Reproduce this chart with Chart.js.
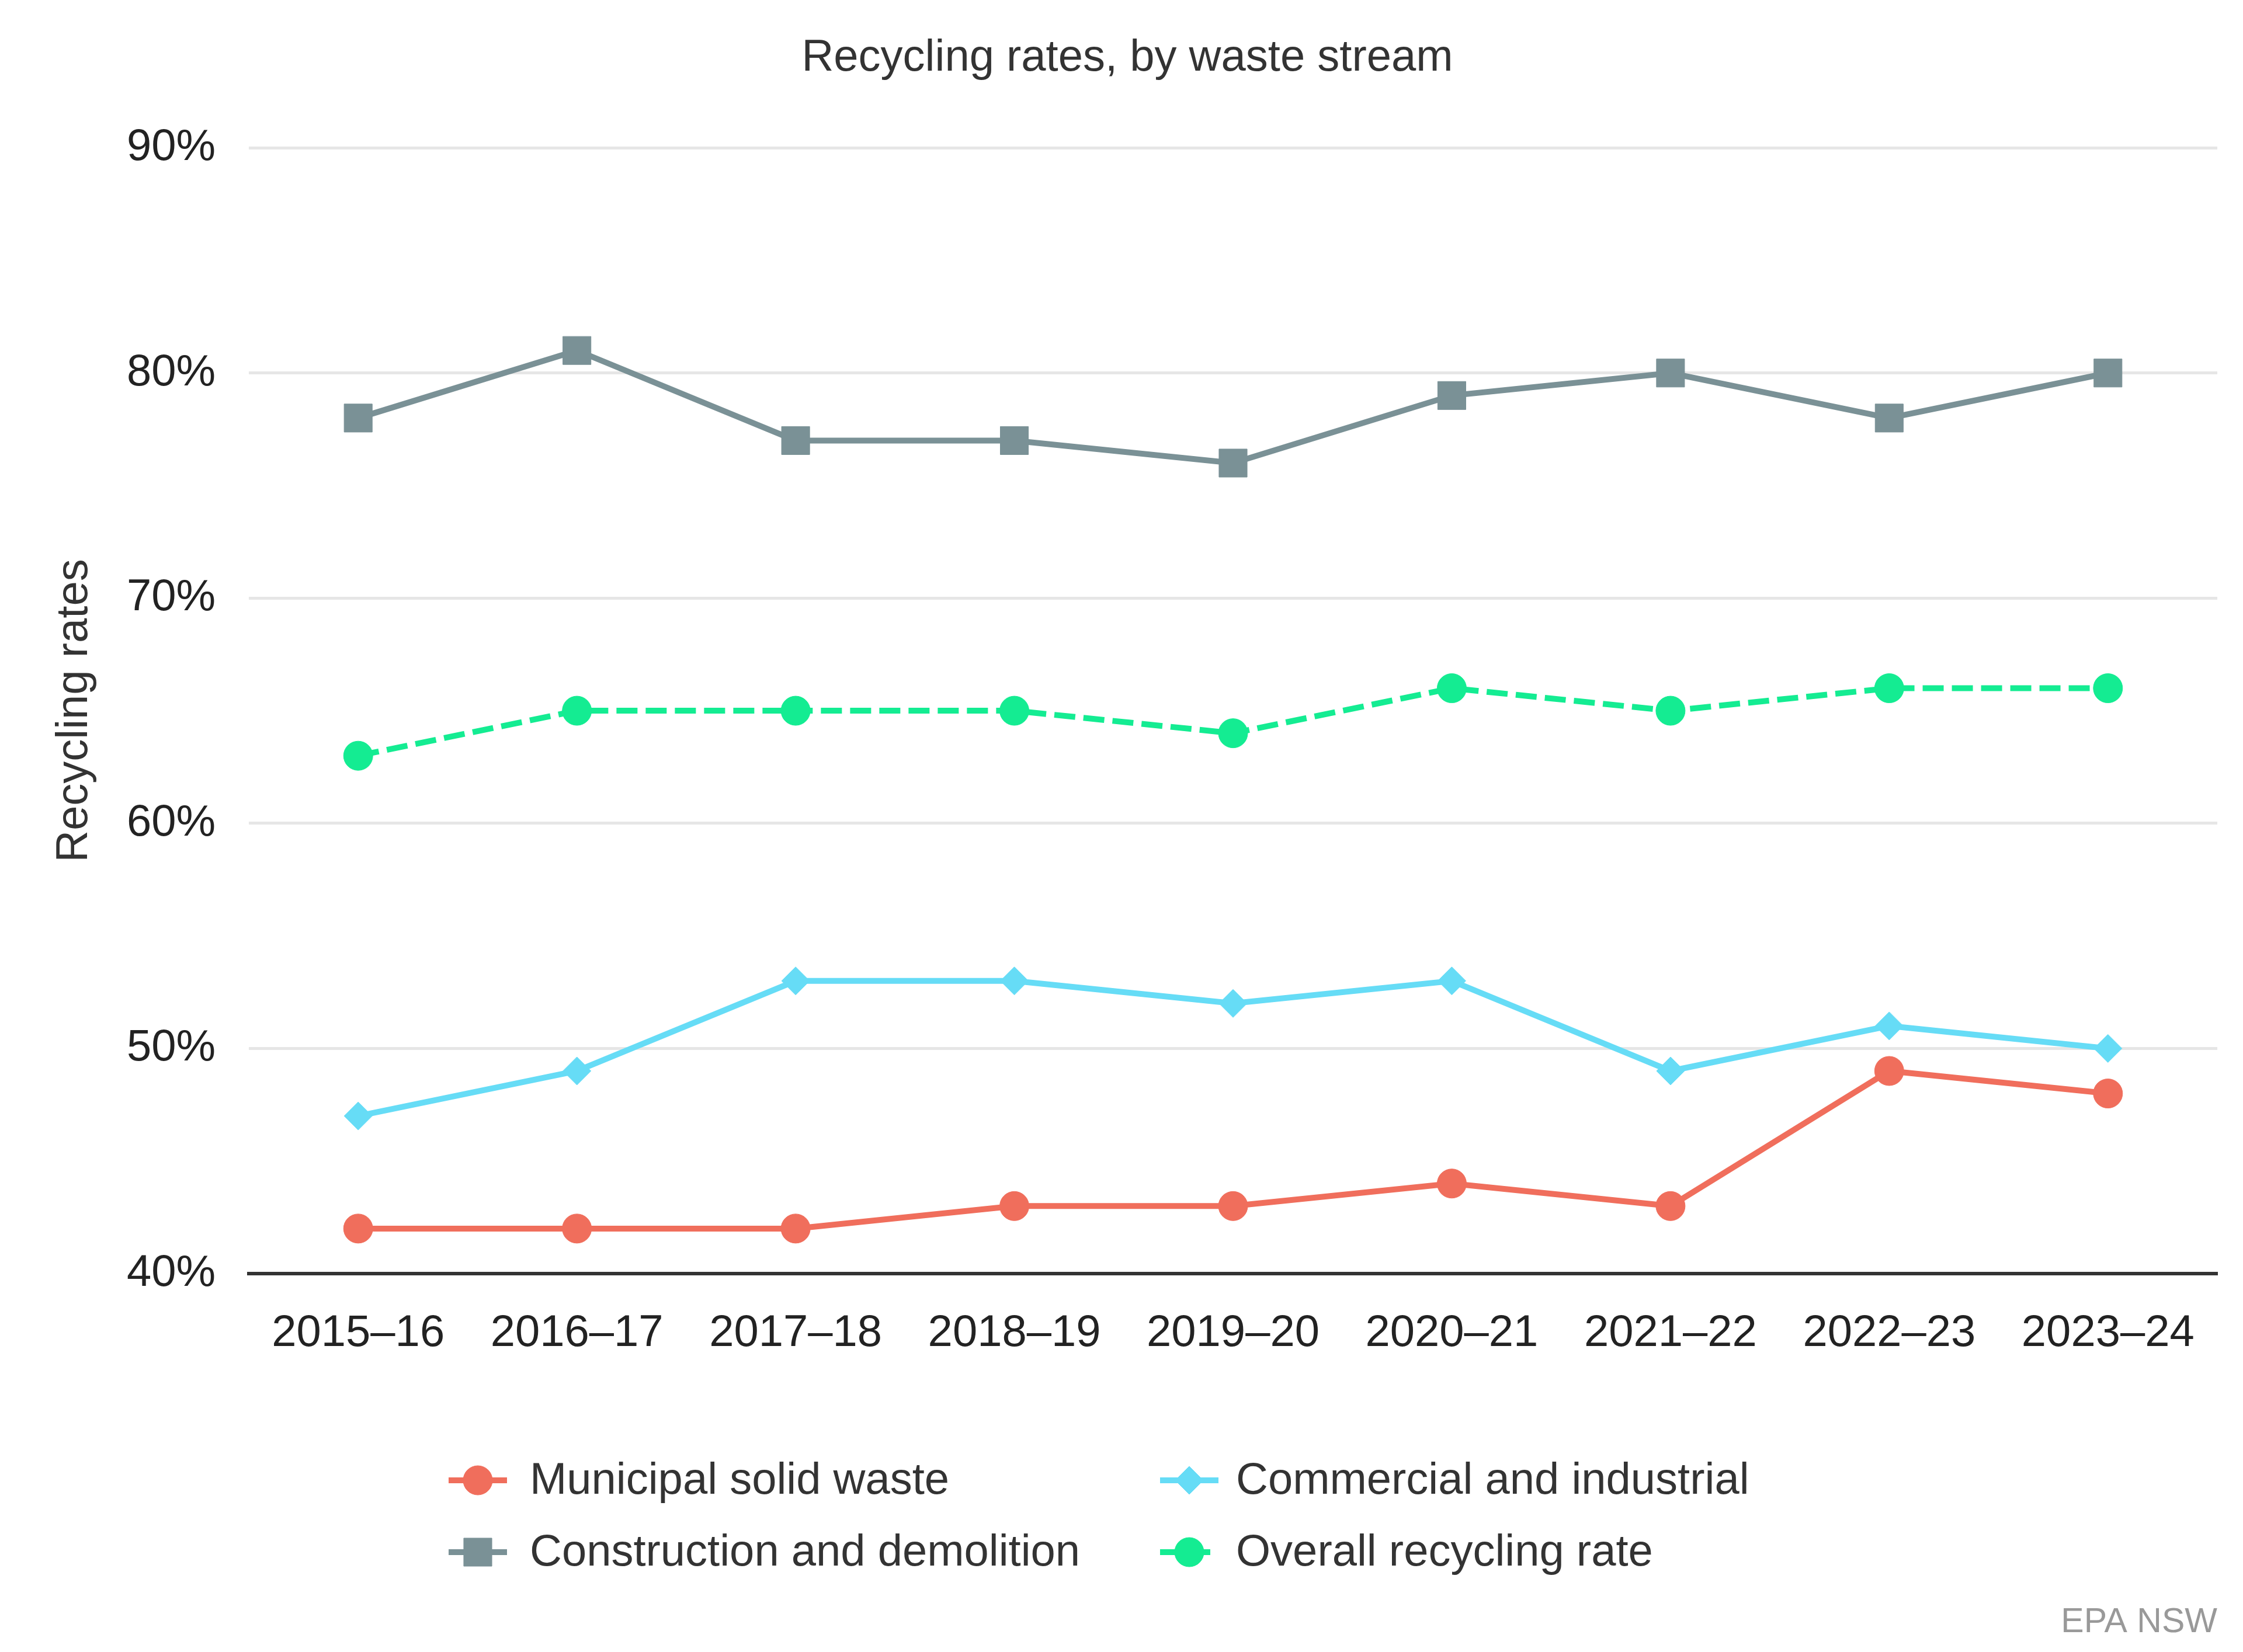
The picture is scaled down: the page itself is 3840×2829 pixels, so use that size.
<!DOCTYPE html>
<html><head><meta charset="utf-8">
<script src="https://cdn.jsdelivr.net/npm/chart.js@4.4.1/dist/chart.umd.min.js"></script>
<style>html,body{margin:0;padding:0;background:#fff;}#wrap{width:3840px;height:2829px;position:relative;}</style>
</head><body><div id="wrap"><canvas id="c"></canvas></div>
<script>
const categories = ['2015–16','2016–17','2017–18','2018–19','2019–20','2020–21','2021–22','2022–23','2023–24'];
const municipal    = [42,42,42,43,43,44,43,49,48];
const commercial   = [47,49,53,53,52,53,49,51,50];
const construction = [78,81,77,77,76,79,80,78,80];
const overall      = [63,65,65,65,64,66,65,66,66];
const seriesNames  = ['Municipal solid waste','Commercial and industrial','Construction and demolition','Overall recycling rate'];
const yMin = 40, yMax = 90, yStep = 10;
const titleText = 'Recycling rates, by waste stream';
const yTitleText = 'Recycling rates';
const creditText = 'EPA NSW';

const FONT = "'Liberation Sans', Arial, sans-serif";
const FS = 76;

function ds(label, data, color, style, radius, dash) {
  return {
    label, data,
    borderColor: color, backgroundColor: color,
    pointBackgroundColor: color, pointBorderColor: color, pointBorderWidth: 1,
    pointStyle: style, pointRadius: radius, pointHoverRadius: radius,
    borderWidth: 10, borderDash: dash || [], tension: 0, fill: false
  };
}

const legendPlugin = {
  id: 'gridLegend',
  afterDraw(chart) {
    const ctx = chart.ctx;
    const colX = [818, 2036], textX = [907, 2116], rowY = [2535, 2658];
    chart.data.datasets.forEach((d, i) => {
      const cx = colX[i % 2], cy = rowY[Math.floor(i / 2)];
      ctx.save();
      ctx.strokeStyle = d.borderColor; ctx.lineWidth = d.borderWidth;
      ctx.setLineDash(d.borderDash || []);
      ctx.beginPath(); ctx.moveTo(cx - 50, cy); ctx.lineTo(cx + 50, cy); ctx.stroke();
      ctx.setLineDash([]);
      ctx.fillStyle = d.pointBackgroundColor; ctx.strokeStyle = d.pointBorderColor; ctx.lineWidth = 1;
      Chart.helpers.drawPoint(ctx, {pointStyle: d.pointStyle, radius: d.pointRadius, borderWidth: 1, rotation: 0}, cx, cy);
      ctx.fillStyle = '#333'; ctx.font = FS + 'px ' + FONT;
      ctx.textBaseline = 'middle'; ctx.textAlign = 'left';
      ctx.fillText(d.label, textX[i % 2], cy + 2);
      ctx.restore();
    });
    ctx.save();
    ctx.fillStyle = '#999'; ctx.font = '59px ' + FONT;
    ctx.textAlign = 'right'; ctx.textBaseline = 'middle';
    ctx.fillText(creditText, 3796, 2779);
    ctx.restore();
  }
};

new Chart(document.getElementById('c'), {
  type: 'line',
  data: {
    labels: categories,
    datasets: [
      ds(seriesNames[0], municipal, '#f06e5c', 'circle', 25),
      ds(seriesNames[1], commercial, '#66dcf6', 'rectRot', 24),
      ds(seriesNames[2], construction, '#7a9196', 'rect', 34),
      ds(seriesNames[3], overall, '#14ec92', 'circle', 25, [36, 14])
    ]
  },
  options: {
    responsive: true, maintainAspectRatio: false, devicePixelRatio: 1,
    animation: false, events: [],
    layout: { padding: { left: 64, right: 44, top: 0, bottom: 499 } },
    plugins: {
      legend: { display: false },
      tooltip: { enabled: false },
      title: {
        display: true, text: titleText, color: '#333',
        font: { family: FONT, size: FS, weight: 'normal' },
        padding: { top: 54, bottom: 108 }
      }
    },
    scales: {
      x: {
        offset: true,
        grid: { display: false, drawTicks: false },
        border: { display: true, color: '#333', width: 6 },
        ticks: { color: '#222', font: { family: FONT, size: FS }, padding: 57, autoSkip: false, maxRotation: 0 },
        afterFit: s => { s.height = 149; }
      },
      y: {
        min: yMin, max: yMax,
        grid: { color: '#e6e6e6', lineWidth: 5, drawTicks: false },
        border: { display: false },
        ticks: { stepSize: yStep, color: '#222', font: { family: FONT, size: FS }, padding: 57, callback: v => v + '%' },
        title: { display: true, text: yTitleText, color: '#333', font: { family: FONT, size: FS }, padding: { top: 18, bottom: 0 } },
        afterFit: s => { s.width = 362; }
      }
    }
  },
  plugins: [legendPlugin]
});
</script></body></html>
